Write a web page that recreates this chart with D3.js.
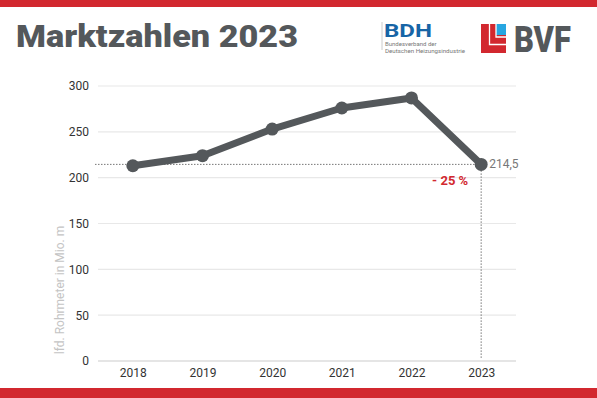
<!DOCTYPE html>
<html>
<head>
<meta charset="utf-8">
<script src="https://cdn.jsdelivr.net/npm/d3@7"></script>
<style>
  body { margin: 0; background: #fff; }
  svg { display: block; font-family: Roboto, "Liberation Sans", sans-serif; }
</style>
</head>
<body>
<div id="chart"></div>
<script>
// Daten
const years = [2018, 2019, 2020, 2021, 2022, 2023];
const values = [213, 224, 253, 276, 287, 214.5];
const yTicks = [0, 50, 100, 150, 200, 250, 300];
const lastLabel = "214,5";
const changeLabel = "- 25 %";

const width = 597;
const height = 398;
const marginTop = 86;
const marginRight = 81;
const marginBottom = 37;
const marginLeft = 98;

const grey = "#54585b";
const red = "#d2282f";

const svg = d3.select("#chart")
  .append("svg")
  .attr("width", width)
  .attr("height", height)
  .attr("viewBox", [0, 0, width, height]);

// rote Balken oben und unten
svg.append("rect").attr("x", 0).attr("y", 0).attr("width", width).attr("height", 7).attr("fill", red);
svg.append("rect").attr("x", 0).attr("y", 388).attr("width", width).attr("height", 10).attr("fill", red);

// Titel
svg.append("text")
  .attr("x", 16)
  .attr("y", 47)
  .attr("font-size", 31)
  .attr("font-weight", 900)
  .attr("fill", grey)
  .attr("textLength", 282)
  .attr("lengthAdjust", "spacingAndGlyphs")
  .text("Marktzahlen 2023");

// BDH Logo
svg.append("line").attr("x1", 382).attr("x2", 382).attr("y1", 22).attr("y2", 50)
  .attr("stroke", "#ccc").attr("stroke-width", 1);
svg.append("text").attr("x", 384).attr("y", 36.5)
  .attr("font-size", 18).attr("font-weight", 700).attr("fill", "#1765a6")
  .attr("textLength", 48).attr("lengthAdjust", "spacingAndGlyphs")
  .text("BDH");
svg.append("text").attr("x", 385).attr("y", 46)
  .attr("font-size", 6).attr("fill", "#777")
  .text("Bundesverband der");
svg.append("text").attr("x", 385).attr("y", 52.5)
  .attr("font-size", 6).attr("fill", "#777")
  .attr("textLength", 80).attr("lengthAdjust", "spacingAndGlyphs")
  .text("Deutschen Heizungsindustrie");

// BVF Logo
const logo = svg.append("g").attr("transform", "translate(481,24)");
logo.append("rect").attr("width", 25).attr("height", 29).attr("fill", red);
logo.append("rect").attr("x", 15).attr("width", 10).attr("height", 11).attr("fill", "#27a6e1");
logo.append("path").attr("d", "M8.5,0 V20.5 H25").attr("fill", "none").attr("stroke", "#fff").attr("stroke-width", 1.3);
logo.append("path").attr("d", "M15,0 V13 H25").attr("fill", "none").attr("stroke", "#fff").attr("stroke-width", 1.3);
svg.append("text").attr("x", 514).attr("y", 52)
  .attr("font-size", 37).attr("font-weight", 900).attr("fill", grey)
  .attr("textLength", 57).attr("lengthAdjust", "spacingAndGlyphs")
  .text("BVF");

// Skalen
const x = d3.scalePoint()
  .domain(years)
  .range([marginLeft, width - marginRight])
  .padding(0.5);

const y = d3.scaleLinear()
  .domain([0, 300])
  .range([height - marginBottom, marginTop]);

// Gitterlinien
svg.append("g")
  .selectAll("line")
  .data(yTicks)
  .join("line")
  .attr("x1", marginLeft)
  .attr("x2", width - marginRight)
  .attr("y1", d => y(d))
  .attr("y2", d => y(d))
  .attr("stroke", d => d === 0 ? "#ccc" : "#e8e8e8")
  .attr("stroke-width", 1.2);

// Achsen
svg.append("g")
  .attr("transform", `translate(${marginLeft - 9},0)`)
  .call(d3.axisLeft(y).tickValues(yTicks).tickSize(0).tickPadding(0))
  .call(g => g.select(".domain").remove())
  .call(g => g.selectAll("text").attr("font-size", 12).attr("fill", "#333").attr("font-family", "Roboto, sans-serif"));

svg.append("g")
  .attr("transform", `translate(0,${height - marginBottom})`)
  .call(d3.axisBottom(x).tickSize(0).tickPadding(7))
  .call(g => g.select(".domain").remove())
  .call(g => g.selectAll("text").attr("font-size", 12).attr("fill", "#333").attr("font-family", "Roboto, sans-serif"));

// Achsentitel
svg.append("text")
  .attr("transform", `translate(64,290) rotate(-90)`)
  .attr("text-anchor", "middle")
  .attr("font-size", 12)
  .attr("fill", "#c4c4c4")
  .text("lfd. Rohrmeter in Mio. m");

// gepunktete Referenzlinien
const last = values[values.length - 1];
const lastYear = years[years.length - 1];
svg.append("line")
  .attr("x1", 95).attr("x2", x(lastYear))
  .attr("y1", y(last)).attr("y2", y(last))
  .attr("stroke", "#777").attr("stroke-width", 1).attr("stroke-dasharray", "1.5,1.5");
svg.append("line")
  .attr("x1", x(lastYear)).attr("x2", x(lastYear))
  .attr("y1", y(last)).attr("y2", y(0) - 2)
  .attr("stroke", "#777").attr("stroke-width", 1).attr("stroke-dasharray", "1.5,1.5");

// Linie
const line = d3.line()
  .x((d, i) => x(years[i]))
  .y(d => y(d));

svg.append("path")
  .datum(values)
  .attr("fill", "none")
  .attr("stroke", grey)
  .attr("stroke-width", 7)
  .attr("stroke-linejoin", "round")
  .attr("d", line);

svg.append("g")
  .attr("fill", grey)
  .selectAll("circle")
  .data(values)
  .join("circle")
  .attr("cx", (d, i) => x(years[i]))
  .attr("cy", d => y(d))
  .attr("r", 6.5);

// Beschriftungen
svg.append("text")
  .attr("x", x(lastYear) + 8)
  .attr("y", y(last) + 4)
  .attr("font-size", 12)
  .attr("fill", "#777")
  .text(lastLabel);

svg.append("text")
  .attr("x", x(lastYear) - 31)
  .attr("y", y(last) + 21)
  .attr("text-anchor", "middle")
  .attr("font-size", 13)
  .attr("font-weight", 700)
  .attr("fill", red)
  .text(changeLabel);
</script>
</body>
</html>
